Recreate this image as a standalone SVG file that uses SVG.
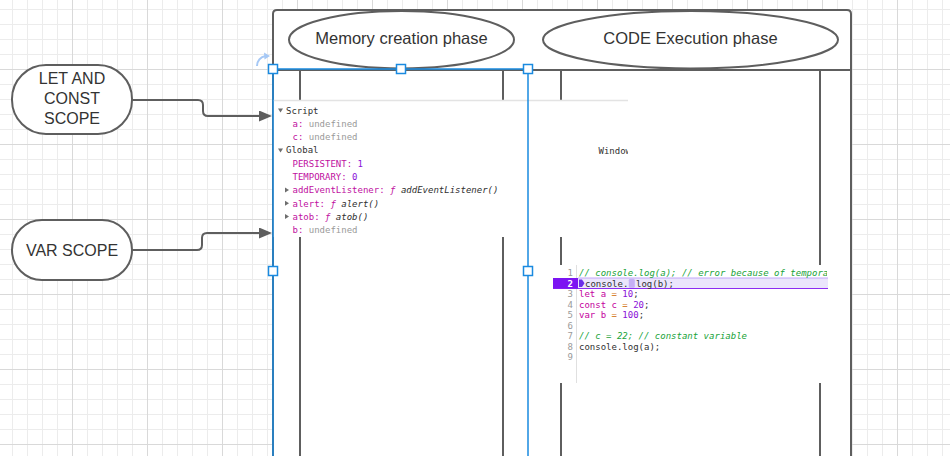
<svg xmlns="http://www.w3.org/2000/svg" width="950" height="456" viewBox="0 0 950 456">
<style>
.shape{fill:#fff;stroke:#5e5e5e;stroke-width:2}
.lane{fill:none;stroke:#5e5e5e;stroke-width:2}
.lbl{font-family:"Liberation Sans",Arial,sans-serif;font-size:16px;fill:#333;text-anchor:middle}
.hdr{font-size:16.5px}
.conn{fill:none;stroke:#5e5e5e;stroke-width:2}
.mono{font-family:"DejaVu Sans Mono","Liberation Mono",monospace;font-size:9px;white-space:pre;fill:#303030}
.prop{fill:#c0109f}
.undef{fill:#9a9a9a}
.num{fill:#8a10d8}
.fn{font-style:italic;fill:#303030}
.tri{fill:#6e6e6e}
.ln{fill:#9a9a9a;text-anchor:end}
.cmt{fill:#1aa33a;font-style:italic}
.kw{fill:#c4009e}
.op{fill:#d06a00}
.sel{fill:none;stroke:#1a8ae0;stroke-width:1.5}
.handle{fill:#fff;stroke:#1a8ae0;stroke-width:1.5}
</style>
<defs>
<pattern id="grid" patternUnits="userSpaceOnUse" x="-3" y="-6" width="75" height="75">
<path d="M15.5,0V75M30.5,0V75M45.5,0V75M60.5,0V75M0,15.5H75M0,30.5H75M0,45.5H75M0,60.5H75" stroke="#ececec" stroke-width="1" fill="none"/>
<path d="M0.5,0V75M0,0.5H75" stroke="#d9d9d9" stroke-width="1" fill="none"/>
</pattern>
<marker id="arr" markerUnits="userSpaceOnUse" markerWidth="13" markerHeight="11" refX="5" refY="5.5" orient="auto">
<path d="M0,0 L13,5.5 L0,11 z" fill="#5e5e5e"/>
</marker>
<clipPath id="clipScript"><rect x="273" y="100" width="355" height="137"/></clipPath>
<clipPath id="clipCode"><rect x="553" y="265" width="274" height="118"/></clipPath>
</defs>

<rect x="0" y="0" width="950" height="456" fill="#fff"/>
<rect x="0" y="0" width="950" height="456" fill="url(#grid)"/>

<g id="frame">
<path class="shape" d="M273,470 V14 Q273,10 277,10 H847 Q851,10 851,14 V470 Z"/>
<path class="lane" d="M273,70 H851"/>
<path class="lane" d="M300,70V100 M300,237V456 M503,70V100 M503,237V456 M561,70V100 M561,237V266 M561,383V456 M820,70V266 M820,383V456"/>
</g>

<g id="memory-creation-phase">
<ellipse class="shape" cx="401.5" cy="39.7" rx="112.5" ry="28.7"/>
<text class="lbl hdr" x="401.5" y="44">Memory creation phase</text>
</g>

<g id="code-execution-phase">
<ellipse class="shape" cx="690.5" cy="39.7" rx="147.5" ry="28.7"/>
<text class="lbl hdr" x="690.5" y="44">CODE Execution phase</text>
</g>

<g id="script-panel">
<rect x="273.5" y="100" width="354.5" height="137" fill="#fff"/>
<path d="M273,100.5H628" stroke="#e3e3e3" stroke-width="1.5"/>
<g clip-path="url(#clipScript)">
<polygon class="tri" points="278,108.5 283,108.5 280.5,112.5"/>
<text class="mono" x="286" y="113.5">Script</text>
<text class="mono" x="292.5" y="126.8" xml:space="preserve"><tspan class="prop">a:</tspan> <tspan class="undef">undefined</tspan></text>
<text class="mono" x="292.5" y="140.1" xml:space="preserve"><tspan class="prop">c:</tspan> <tspan class="undef">undefined</tspan></text>
<polygon class="tri" points="278,148.5 283,148.5 280.5,152.5"/>
<text class="mono" x="286" y="153.4">Global</text>
<text class="mono" x="292.5" y="166.7" xml:space="preserve"><tspan class="prop">PERSISTENT:</tspan> <tspan class="num">1</tspan></text>
<text class="mono" x="292.5" y="180" xml:space="preserve"><tspan class="prop">TEMPORARY:</tspan> <tspan class="num">0</tspan></text>
<polygon class="tri" points="285,187.5 289,190 285,192.5"/>
<text class="mono" x="292.5" y="193.3" xml:space="preserve"><tspan class="prop">addEventListener:</tspan> <tspan class="prop" font-style="italic">ƒ</tspan> <tspan class="fn">addEventListener()</tspan></text>
<polygon class="tri" points="285,200.8 289,203.3 285,205.8"/>
<text class="mono" x="292.5" y="206.6" xml:space="preserve"><tspan class="prop">alert:</tspan> <tspan class="prop" font-style="italic">ƒ</tspan> <tspan class="fn">alert()</tspan></text>
<polygon class="tri" points="285,214.1 289,216.6 285,219.1"/>
<text class="mono" x="292.5" y="219.9" xml:space="preserve"><tspan class="prop">atob:</tspan> <tspan class="prop" font-style="italic">ƒ</tspan> <tspan class="fn">atob()</tspan></text>
<text class="mono" x="292.5" y="233.2" xml:space="preserve"><tspan class="prop">b:</tspan> <tspan class="undef">undefined</tspan></text>
<text class="mono" x="598.5" y="154" fill="#5a5a78">Window</text>
</g>
</g>

<g id="code-panel">
<rect x="553" y="265" width="276" height="118" fill="#fff"/>
<path d="M576.5,265V383" stroke="#e0e0e0" stroke-width="1"/>
<rect x="578" y="278" width="250" height="10.5" fill="#ebe5fc"/>
<path d="M578,278H828" stroke="#c2a6f7" stroke-width="1"/>
<path d="M553,288.5H828" stroke="#8d2cf2" stroke-width="1.2"/>
<rect x="553" y="278" width="25" height="10.5" fill="#7c14f2"/>
<g clip-path="url(#clipCode)">
<text class="mono ln" x="573" y="276">1</text>
<text class="mono" x="579" y="276" xml:space="preserve"><tspan class="cmt">// console.log(a); // error because of temporal</tspan></text>
<text class="mono ln" x="573" y="286.5" font-weight="bold" fill="#fff" style="fill:#fff">2</text>
<polygon points="579,279.5 582,279.5 584.5,283.2 582,287 579,287" fill="#6a2ee8"/>
<text class="mono" x="585" y="286.5" fill="#444">console.</text>
<rect x="628.8" y="278.8" width="6" height="9" rx="1.5" fill="#c5b0f5"/>
<text class="mono" x="636" y="286.5" fill="#444">log(b);</text>
<text class="mono ln" x="573" y="297">3</text>
<text class="mono" x="579" y="297" xml:space="preserve"><tspan class="kw">let a</tspan> <tspan class="op">=</tspan> <tspan class="num">10</tspan>;</text>
<text class="mono ln" x="573" y="307.5">4</text>
<text class="mono" x="579" y="307.5" xml:space="preserve"><tspan class="kw">const c</tspan> <tspan class="op">=</tspan> <tspan class="num">20</tspan>;</text>
<text class="mono ln" x="573" y="318">5</text>
<text class="mono" x="579" y="318" xml:space="preserve"><tspan class="kw">var b</tspan> <tspan class="op">=</tspan> <tspan class="num">100</tspan>;</text>
<text class="mono ln" x="573" y="328.5">6</text>
<text class="mono ln" x="573" y="339">7</text>
<text class="mono" x="579" y="339" xml:space="preserve"><tspan class="cmt">// c = 22; // constant variable</tspan></text>
<text class="mono ln" x="573" y="349.5">8</text>
<text class="mono" x="579" y="349.5">console.log(a);</text>
<text class="mono ln" x="573" y="360">9</text>
</g>
</g>

<g id="let-const-scope">
<rect class="shape" x="12" y="65" width="120" height="69" rx="34"/>
<text class="lbl" x="72" y="83.5">LET AND</text>
<text class="lbl" x="72" y="103.5">CONST</text>
<text class="lbl" x="72" y="123.5">SCOPE</text>
</g>

<g id="var-scope">
<rect class="shape" x="12" y="220" width="120" height="60" rx="30"/>
<text class="lbl" x="72" y="255.5">VAR SCOPE</text>
</g>

<g id="connectors">
<path class="conn" d="M132,100 H198 Q203,100 203,105 V111 Q203,116 208,116 H264" marker-end="url(#arr)"/>
<path class="conn" d="M132,250 H197 Q202,250 202,245 V238 Q202,233 207,233 H264" marker-end="url(#arr)"/>
</g>

<g id="selection">
<path class="sel" d="M273,69V456 M528,69V456 M273,69H528"/>
<rect class="handle" x="268.5" y="64.5" width="9" height="9"/>
<rect class="handle" x="396.5" y="64.5" width="9" height="9"/>
<rect class="handle" x="523.5" y="64.5" width="9" height="9"/>
<rect class="handle" x="268.5" y="266.5" width="9" height="9"/>
<rect class="handle" x="523.5" y="266.5" width="9" height="9"/>
<path d="M257,66 A10,10 0 0 1 265.5,56" fill="none" stroke="#a6c8f5" stroke-width="2"/>
<polygon points="264,52.5 270,56 264.5,59.5" fill="#a6c8f5"/>
</g>
</svg>
